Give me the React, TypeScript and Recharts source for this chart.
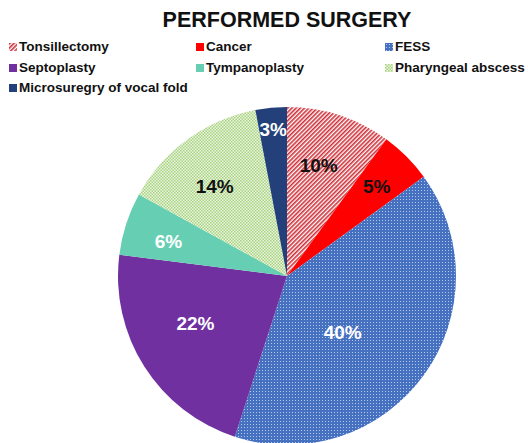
import React from 'react';
import { PieChart, Pie, Cell, Legend } from 'recharts';

// ---- data ----
const procedures = [
  'Tonsillectomy',
  'Cancer',
  'FESS',
  'Septoplasty',
  'Tympanoplasty',
  'Pharyngeal abscess',
  'Microsuregry of vocal fold',
];
const shares = [10, 5, 40, 22, 6, 14, 3];
const title = 'PERFORMED SURGERY';

// ---- style ----
const fills = [
  'url(#pat-tons)',
  '#FF0000',
  'url(#pat-fess)',
  '#7030A0',
  '#66CFB3',
  'url(#pat-phar)',
  '#24407A',
];
const labelColors = ['#111', '#111', '#fff', '#fff', '#fff', '#111', '#fff'];
// label placement: [fraction of outer radius, clockwise angle shift in degrees]
const labelPlacement: [number, number][] = [
  [0.68, -2],
  [0.75, 0],
  [0.47, 9.5],
  [0.61, 5],
  [0.73, -2],
  [0.68, -3],
  [0.87, 0],
];
const legendCols = [9, 196, 385];
const legendRows = [39, 59.5, 80];
const FONT = '"Liberation Sans", Arial, Helvetica, sans-serif';

const data = procedures.map((name, i) => ({ name, value: shares[i] }));

const RADIAN = Math.PI / 180;

const renderLabel = (props: any) => {
  const { cx, cy, midAngle, outerRadius, index, value } = props;
  const [frac, shift] = labelPlacement[index];
  const a = (midAngle - shift) * RADIAN;
  const r = outerRadius * frac;
  const x = cx + r * Math.cos(a);
  const y = cy - r * Math.sin(a);
  return (
    <text
      x={x}
      y={y}
      textAnchor="middle"
      dominantBaseline="central"
      fill={labelColors[index]}
      style={{ fontFamily: FONT, fontWeight: 700, fontSize: 19 }}
    >
      {`${value}%`}
    </text>
  );
};

const renderLegend = () => (
  <div style={{ position: 'relative', width: 528, height: 100 }}>
    {procedures.map((n, i) => {
      const col = i % 3;
      const row = Math.floor(i / 3);
      return (
        <div
          key={n}
          style={{
            position: 'absolute',
            left: legendCols[col],
            top: legendRows[row],
            display: 'flex',
            alignItems: 'center',
            fontFamily: FONT,
            fontWeight: 700,
            fontSize: 13.5,
            color: '#111',
            whiteSpace: 'nowrap',
            lineHeight: '16px',
          }}
        >
          <svg width={8} height={8} style={{ marginRight: 2 }}>
            <rect x={0} y={0} width={8} height={8} fill={fills[i]} />
          </svg>
          <span>{n}</span>
        </div>
      );
    })}
  </div>
);

export default function App() {
  return (
    <div
      style={{
        position: 'absolute',
        left: 0,
        top: 0,
        width: 528,
        height: 443,
        background: '#fff',
        overflow: 'hidden',
      }}
    >
      <div
        style={{
          position: 'absolute',
          left: 0,
          top: 8,
          width: 574,
          textAlign: 'center',
          fontFamily: FONT,
          fontWeight: 700,
          fontSize: 21.5,
          lineHeight: '25px',
          color: '#111',
          zIndex: 2,
        }}
      >
        {title}
      </div>
      <PieChart width={528} height={443} margin={{ top: 0, right: 0, bottom: 0, left: 0 }}>
        <defs>
          <pattern
            id="pat-tons"
            width={3}
            height={3}
            patternUnits="userSpaceOnUse"
            patternTransform="rotate(45)"
          >
            <rect width={3} height={3} fill="#ffffff" />
            <rect width={1.6} height={3} fill="#CF2F38" />
          </pattern>
          <pattern id="pat-fess" width={3} height={3} patternUnits="userSpaceOnUse">
            <rect width={3} height={3} fill="#4670C0" />
            <rect x={1} y={1} width={1} height={1} fill="#B4C8EE" />
          </pattern>
          <pattern id="pat-phar" width={3} height={3} patternUnits="userSpaceOnUse">
            <rect width={3} height={3} fill="#EEF7E4" />
            <rect x={0} y={0} width={1.5} height={1.5} fill="#A6D27E" />
            <rect x={1.5} y={1.5} width={1.5} height={1.5} fill="#A6D27E" />
          </pattern>
        </defs>
        <Pie
          data={data}
          dataKey="value"
          nameKey="name"
          cx={287}
          cy={276}
          outerRadius={169}
          startAngle={90}
          endAngle={-270}
          stroke="none"
          label={renderLabel}
          labelLine={false}
          isAnimationActive={false}
        >
          {data.map((d, i) => (
            <Cell key={d.name} fill={fills[i]} />
          ))}
        </Pie>
        <Legend
          layout="horizontal"
          verticalAlign="middle"
          align="center"
          content={renderLegend}
          wrapperStyle={{ top: 0, left: 0, width: 528, height: 100 }}
        />
      </PieChart>
    </div>
  );
}
